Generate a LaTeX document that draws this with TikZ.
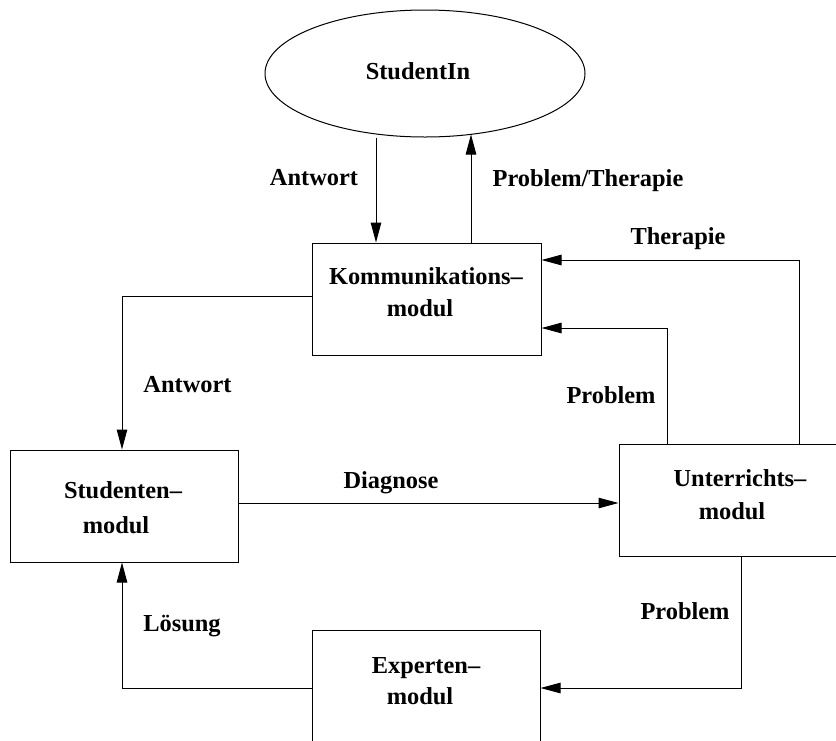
\documentclass[tikz,border=0pt]{standalone}
\usepackage{fontspec}
\setmainfont{Liberation Serif}
\usetikzlibrary{arrows.meta,shapes.geometric}
\tikzset{
  box/.style={draw=black, line width=1pt, rectangle, inner sep=0pt, minimum width=#1, minimum height=112pt},
  oval/.style={draw=black, line width=1pt, ellipse, inner sep=0pt, minimum width=320pt, minimum height=127pt},
  txt/.style={inner sep=0pt, anchor=base, font=\fontsize{24.4}{30}\selectfont\bfseries},
  arr/.style={draw=black, line width=1pt, -{Triangle[length=20pt,width=10.5pt]}}
}
\begin{document}
\begin{tikzpicture}[x=1pt,y=-1pt]
\path[use as bounding box, clip] (0,0) rectangle (836,740);
% shapes
\node[oval] (ell) at (425,73.5) {};
\node[box=229pt] (komm) at (426.5,299) {};
\node[box=227.5pt] (stud) at (124.25,506) {};
\node[box=244pt] (unter) at (741,500) {};
\node[box=228pt] (exp) at (426,686) {};
% texts in shapes
\node[txt] (tell) at (418,79.5) {StudentIn};
\node[txt] (tk1) at (426,284.5) {Kommunikations–};
\node[txt] (tk2) at (420,316.5) {modul};
\node[txt] (ts1) at (123,498) {Studenten–};
\node[txt] (ts2) at (116,533) {modul};
\node[txt] (tu1) at (740,486) {Unterrichts–};
\node[txt] (tu2) at (732,519.5) {modul};
\node[txt] (te1) at (426,673) {Experten–};
\node[txt] (te2) at (420,704) {modul};
% connectors
\draw[arr] ([xshift=-49pt]ell.south) -- ([xshift=-50.5pt]komm.north);
\draw[arr] ([xshift=44.5pt]komm.north) -- ([xshift=46pt,yshift=3pt]ell.south);
\draw[arr] ([xshift=58pt]unter.north) |- ([yshift=39pt]komm.east);
\draw[arr] ([xshift=-74pt]unter.north) |- ([yshift=-29pt]komm.east);
\draw[arr] ([yshift=2.3pt]komm.west) -| ([xshift=-2.25pt]stud.north);
\draw[arr] ([yshift=3pt]stud.east) -- ([yshift=-3pt]unter.west);
\draw[arr] (unter.south) |- ([yshift=-2pt]exp.east);
\draw[arr] ([yshift=-2pt]exp.west) -| ([xshift=-2.25pt]stud.south);
% connector labels
\node[txt] (l1) at (314,185) {Antwort};
\node[txt] (l2) at (588,186.5) {Problem/Therapie};
\node[txt] (l3) at (678,244) {Therapie};
\node[txt] (l4) at (611,403) {Problem};
\node[txt] (l5) at (187.5,392.5) {Antwort};
\node[txt] (l6) at (391,488) {Diagnose};
\node[txt] (l7) at (182,631) {Lösung};
\node[txt] (l8) at (685,619) {Problem};
\end{tikzpicture}
\end{document}
